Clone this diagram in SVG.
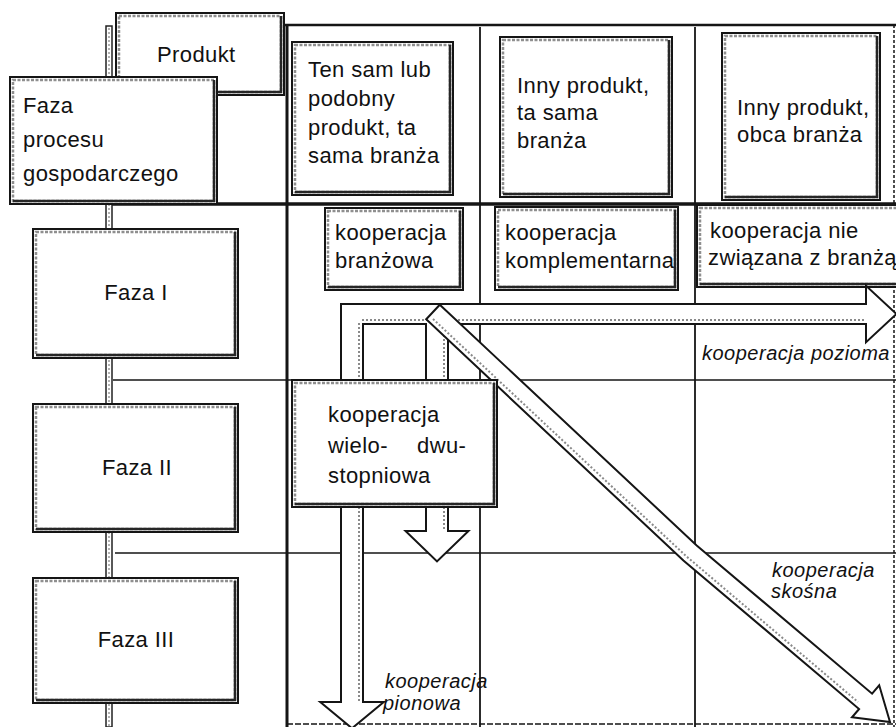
<svg xmlns="http://www.w3.org/2000/svg" xmlns:xlink="http://www.w3.org/1999/xlink" width="896" height="727" viewBox="0 0 896 727">
<style>
.bo{fill:#fff;stroke:#151515;stroke-width:2}
.bi{fill:none;stroke:#8f8f8f;stroke-width:2.5;stroke-dasharray:3 1.5}
.bs{fill:none;stroke:#262626;stroke-width:2.5}
.t{font-family:"Liberation Sans",Arial,Helvetica,sans-serif;font-size:22px;letter-spacing:0.4px;fill:#111}
.ti{font-family:"Liberation Sans",Arial,Helvetica,sans-serif;font-style:italic;font-size:20px;letter-spacing:0.5px;fill:#111}
.g{fill:none;stroke:#151515}
.ao{fill:#fff;stroke:#151515;stroke-width:4;stroke-linejoin:miter}
.af{fill:#fff;stroke:none}
.ad{fill:#fff;stroke:#151515;stroke-width:2;stroke-linejoin:miter}
.ag{fill:none;stroke:#8a8a8a;stroke-width:2;stroke-dasharray:2 2}
</style>
<defs>
<path id="aH" d="M342,305 H867 V288 L895,314 L867,340 V323 H362 V703 H381 L352,727 L323,703 H342 Z"/>
<path id="aV" d="M427,312 H447 V532 H466 L437,560 L408,532 H427 Z"/>
<path id="aD" d="M439.8,304.7 L696.7,545.5 L872.1,693.7 L879.2,685.3 L890,722 L852,717.3 L859.1,709 L683.4,560.5 L426.2,319.3 Z"/>
</defs>
<rect x="0" y="0" width="896" height="727" fill="#fff"/>
<g id="grid">
<path class="g" d="M283,25 H896" stroke-width="2.5" stroke="#444"/>
<path class="g" d="M107,204 H896" stroke-width="3.5"/>
<path class="g" d="M287,25 V727" stroke-width="3"/>
<path class="g" d="M480,27 V727" stroke-width="1.8"/>
<path class="g" d="M695,27 V727" stroke-width="1.8"/>
<path class="g" d="M113,380 H896" stroke-width="1.5"/>
<path class="g" d="M115,553 H896" stroke-width="1.5"/>
<path class="g" d="M287,724 H896" stroke-width="1.5" stroke="#555" stroke-dasharray="6 2"/>
<path class="g" d="M894,25 V727" stroke-width="1.5" stroke="#666" stroke-dasharray="3 2"/>
</g>
<g id="spine">
<rect x="106" y="26" width="6" height="701" fill="#fff" stroke="#222" stroke-width="1.5"/>
<path d="M109,28 V727" stroke="#999" stroke-width="1.5" stroke-dasharray="2 2" fill="none"/>
</g>
<g id="produkt">
<rect class="bo" x="116" y="13" width="168" height="82"/>
<rect class="bi" x="119" y="16" width="162" height="76"/>
<path class="bs" d="M281,16 V92 H119"/>
<text class="t" x="157" y="62">Produkt</text>
</g>
<g id="faza-procesu">
<rect class="bo" x="10" y="77" width="207" height="127"/>
<rect class="bi" x="13" y="80" width="201" height="121"/>
<path class="bs" d="M214,80 V201 H13"/>
<text class="t" x="23" y="113">Faza</text>
<text class="t" x="23" y="147">procesu</text>
<text class="t" x="23" y="181">gospodarczego</text>
</g>
<g id="produkt-ten-sam">
<rect class="bo" x="292" y="42" width="161" height="153"/>
<rect class="bi" x="295" y="45" width="155" height="147"/>
<path class="bs" d="M450,45 V192 H295"/>
<text class="t" x="308" y="77">Ten sam lub</text>
<text class="t" x="308" y="106">podobny</text>
<text class="t" x="308" y="135">produkt, ta</text>
<text class="t" x="308" y="163">sama branża</text>
</g>
<g id="produkt-inny-ta-sama">
<rect class="bo" x="500" y="37" width="172" height="160"/>
<rect class="bi" x="503" y="40" width="166" height="154"/>
<path class="bs" d="M669,40 V194 H503"/>
<text class="t" x="517" y="93">Inny produkt,</text>
<text class="t" x="517" y="120">ta sama</text>
<text class="t" x="517" y="148">branża</text>
</g>
<g id="produkt-inny-obca">
<rect class="bo" x="722" y="33" width="158" height="167"/>
<rect class="bi" x="725" y="36" width="152" height="161"/>
<path class="bs" d="M877,36 V197 H725"/>
<text class="t" x="737" y="115">Inny produkt,</text>
<text class="t" x="737" y="142">obca branża</text>
</g>
<g id="koop-branzowa">
<rect class="bo" x="325" y="208" width="138" height="82"/>
<rect class="bi" x="328" y="211" width="132" height="76"/>
<path class="bs" d="M460,211 V287 H328"/>
<text class="t" x="335" y="240">kooperacja</text>
<text class="t" x="335" y="268">branżowa</text>
</g>
<g id="koop-komplementarna">
<rect class="bo" x="495" y="207" width="183" height="83"/>
<rect class="bi" x="498" y="210" width="177" height="77"/>
<path class="bs" d="M675,210 V287 H498"/>
<text class="t" x="505" y="240" letter-spacing="0">kooperacja</text>
<text class="t" x="505" y="268" letter-spacing="0">komplementarna</text>
</g>
<g id="koop-nie-zwiazana">
<rect class="bo" x="697" y="205" width="205" height="82"/>
<rect class="bi" x="700" y="208" width="199" height="76"/>
<path class="bs" d="M700,284 H900"/>
<text class="t" x="710" y="238">kooperacja nie</text>
<text class="t" x="708" y="265" letter-spacing="0">związana z branżą</text>
</g>
<g id="faza-1">
<rect class="bo" x="33" y="229" width="205" height="129"/>
<rect class="bi" x="36" y="232" width="199" height="123"/>
<path class="bs" d="M235,232 V355 H36"/>
<text class="t" x="136" y="300" text-anchor="middle">Faza I</text>
</g>
<g id="faza-2">
<rect class="bo" x="33" y="404" width="205" height="128"/>
<rect class="bi" x="36" y="407" width="199" height="122"/>
<path class="bs" d="M235,407 V529 H36"/>
<text class="t" x="137" y="475" text-anchor="middle">Faza II</text>
</g>
<g id="faza-3">
<rect class="bo" x="33" y="578" width="205" height="125"/>
<rect class="bi" x="36" y="581" width="199" height="119"/>
<path class="bs" d="M235,581 V700 H36"/>
<text class="t" x="136" y="647" text-anchor="middle">Faza III</text>
</g>
<g id="connectors">
<use xlink:href="#aH" class="ao"/>
<use xlink:href="#aV" class="ao"/>
<use xlink:href="#aH" class="af"/>
<use xlink:href="#aV" class="af"/>
<path class="ag" d="M362,320 H866 M359,323 V702 M444,323 V531"/>
<use xlink:href="#aD" class="ad"/>
<path class="ag" d="M433,319 L686,556 L858,702"/>
</g>
<g id="koop-wielo-dwustopniowa">
<rect class="bo" x="292" y="380" width="205" height="127"/>
<rect class="bi" x="295" y="383" width="199" height="121"/>
<path class="bs" d="M494,383 V504 H295"/>
<text class="t" x="328" y="422">kooperacja</text>
<text class="t" x="328" y="453">wielo-</text>
<text class="t" x="417" y="453">dwu-</text>
<text class="t" x="328" y="483">stopniowa</text>
</g>
<g id="labels">
<text class="ti" x="702" y="360" font-size="21" letter-spacing="0.3">kooperacja pozioma</text>
<text class="ti" x="772" y="577">kooperacja</text>
<text class="ti" x="771" y="598">skośna</text>
<text class="ti" x="385" y="688">kooperacja</text>
<text class="ti" x="383" y="710">pionowa</text>
</g>
</svg>
